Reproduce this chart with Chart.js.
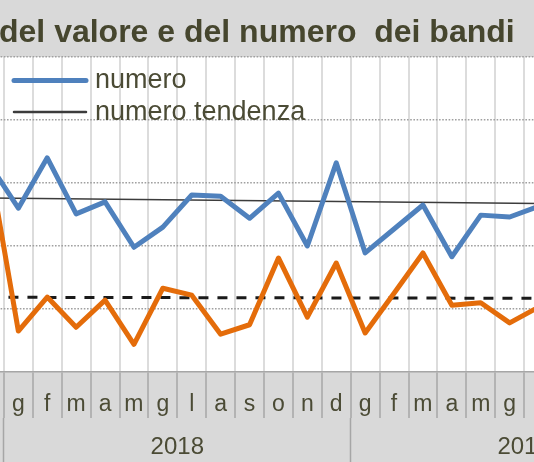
<!DOCTYPE html>
<html>
<head>
<meta charset="utf-8">
<script src="https://cdn.jsdelivr.net/npm/chart.js@4/dist/chart.umd.min.js"></script>
<style>
  html, body { margin: 0; padding: 0; background: #d9d9d9; overflow: hidden; }
  #wrap { position: relative; width: 534px; height: 462px; overflow: hidden; }
  #c { position: absolute; left: -25px; top: 0; }
</style>
</head>
<body>
<div id="wrap"><canvas id="c" width="604" height="462"></canvas></div>
<script>
// ---- data ----
const titleText = 'del valore e del numero  dei bandi';
const months = ['d','g','f','m','a','m','g','l','a','s','o','n','d','g','f','m','a','m','g','l'];
const monthYears = [2017,
  2018,2018,2018,2018,2018,2018,2018,2018,2018,2018,2018,2018,
  2019,2019,2019,2019,2019,2019,2019];
const numero = [3.30, 2.60, 3.40, 2.51, 2.70, 1.98, 2.30, 2.81, 2.79, 2.44, 2.84, 2.00, 3.32, 1.89, 2.27, 2.65, 1.83, 2.49, 2.46, 2.63];
const valore = [3.30, 0.65, 1.19, 0.71, 1.14, 0.44, 1.33, 1.22, 0.60, 0.75, 1.81, 0.87, 1.73, 0.62, 1.25, 1.89, 1.06, 1.10, 0.78, 1.03];
const numeroTendenza = [2.763, null, null, null, null, null, null, null, null, null, null, null, null, null, null, null, null, null, null, 2.675];
const valoreTendenza = [1.186, null, null, null, null, null, null, null, null, null, null, null, null, null, null, null, null, null, null, 1.170];
const legendShown = ['numero', 'numero tendenza'];

// year groups: boundary before the first month of each new year, label in the middle of its 12 months
const yearTicks = [];
for (let i = 1; i < monthYears.length; i++) {
  if (monthYears[i] !== monthYears[i - 1]) {
    yearTicks.push({ value: i - 0.5, label: '' });
    yearTicks.push({ value: i + 5.5, label: String(monthYears[i]) });
  }
}

const TEXT = '#4b4b35';
const FONT = "'Liberation Sans', Arial, sans-serif";

const bgPlugin = {
  id: 'bg',
  beforeDraw(chart) {
    const { ctx, chartArea: a } = chart;
    ctx.save();
    ctx.fillStyle = '#d9d9d9';
    ctx.fillRect(0, 0, chart.width, chart.height);
    ctx.fillStyle = '#ffffff';
    ctx.fillRect(a.left, a.top, a.right - a.left, a.bottom - a.top);
    ctx.restore();
  }
};

const titleShift = {
  id: 'titleShift',
  afterLayout(chart) {
    if (chart.titleBlock) chart.titleBlock.left = 24;
  }
};

const innerLegend = {
  id: 'innerLegend',
  afterDatasetsDraw(chart) {
    const { ctx, chartArea: a } = chart;
    const items = chart.data.datasets.filter(d => legendShown.includes(d.label));
    ctx.save();
    items.forEach((d, i) => {
      const y = a.top + 23.5 + i * 31.5;
      ctx.beginPath();
      ctx.strokeStyle = d.borderColor;
      ctx.lineWidth = d.legendWidth || d.borderWidth;
      ctx.lineCap = 'round';
      ctx.moveTo(a.left + 39, y);
      ctx.lineTo(a.left + 111, y);
      ctx.stroke();
      ctx.fillStyle = TEXT;
      ctx.font = '27px ' + FONT;
      ctx.textBaseline = 'alphabetic';
      ctx.textAlign = 'left';
      ctx.fillText(d.label, a.left + 120, y + 7.5);
    });
    ctx.restore();
  }
};

new Chart(document.getElementById('c'), {
  type: 'line',
  data: {
    labels: months,
    datasets: [
      { label: 'valore', data: valore, borderColor: '#e46c0a', borderWidth: 5, pointRadius: 0, tension: 0, borderJoinStyle: 'round', borderCapStyle: 'round' },
      { label: 'valore tendenza', data: valoreTendenza, borderColor: '#1a1a1a', borderWidth: 3, borderDash: [10, 9], spanGaps: true, pointRadius: 0 },
      { label: 'numero', data: numero, borderColor: '#4f81bd', borderWidth: 5, pointRadius: 0, tension: 0, borderJoinStyle: 'round', borderCapStyle: 'round' },
      { label: 'numero tendenza', data: numeroTendenza, borderColor: '#3c3c3c', borderWidth: 1.5, legendWidth: 2.5, spanGaps: true, pointRadius: 0 }
    ]
  },
  options: {
    responsive: false,
    animation: false,
    devicePixelRatio: 1,
    layout: { padding: { left: 0, right: 26, top: 0, bottom: 0 } },
    plugins: {
      legend: { display: false },
      tooltip: { enabled: false },
      title: {
        display: true,
        text: titleText,
        align: 'start',
        color: '#46462e',
        font: { family: FONT, size: 32, weight: 'bold', lineHeight: 1.2 },
        padding: { top: 14, bottom: 4.6 }
      }
    },
    scales: {
      x: {
        type: 'category',
        offset: true,
        grid: { offset: true, color: '#dcdcdc', lineWidth: 2, drawTicks: true, tickLength: 46, tickColor: '#a6a6a6', tickWidth: 1.5 },
        border: { display: true, color: '#a6a6a6', width: 1.5 },
        ticks: { autoSkip: false, maxRotation: 0, minRotation: 0, padding: -27, color: TEXT, font: { family: FONT, size: 23 } },
        afterFit: s => { s.height = 46; }
      },
      x2: {
        type: 'linear',
        position: 'bottom',
        min: -0.5,
        max: months.length - 0.5,
        grid: {
          drawOnChartArea: false, drawTicks: true, tickLength: 44, tickWidth: 1.5,
          color: 'transparent',
          tickColor: c => (c.tick && yearTicks.find(t => t.value === c.tick.value && t.label === '')) ? '#a6a6a6' : 'transparent'
        },
        border: { display: false },
        afterBuildTicks: s => { s.ticks = yearTicks.map(t => ({ value: t.value })); },
        ticks: {
          autoSkip: false, maxRotation: 0, minRotation: 0, padding: -29, color: TEXT,
          font: { family: FONT, size: 24 },
          callback: v => { const t = yearTicks.find(t => t.value === v); return t ? t.label : ''; }
        },
        afterFit: s => { s.height = 44; }
      },
      y: {
        min: 0, max: 5,
        ticks: { display: false, stepSize: 1 },
        grid: { color: c => c.tick && c.tick.value === 0 ? 'transparent' : '#a0a0a0', lineWidth: 1.6, drawTicks: false },
        border: { display: false, dash: [1.6, 1.6] },
        afterFit: s => { s.width = 0; }
      }
    }
  },
  plugins: [bgPlugin, titleShift, innerLegend]
});
</script>
</body>
</html>
